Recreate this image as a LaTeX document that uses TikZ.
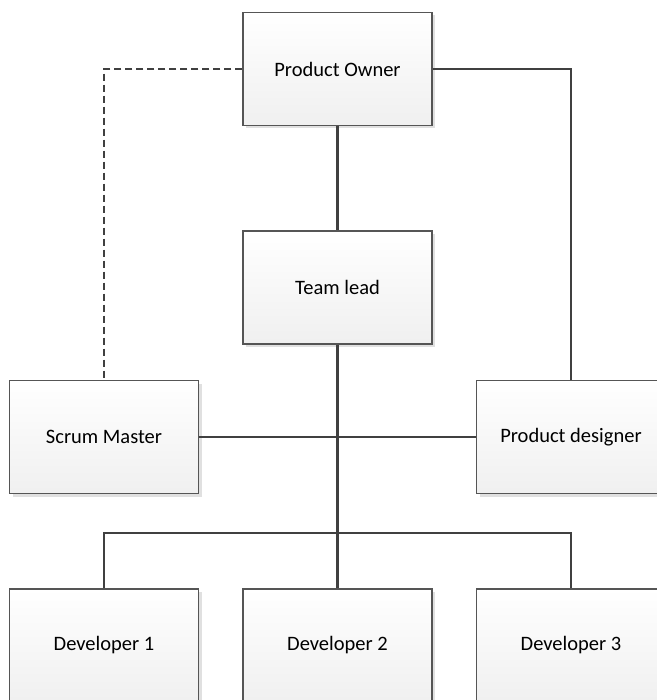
\documentclass[tikz,border=0pt]{standalone}
\usepackage{fontspec}
\setmainfont{Carlito}
\usetikzlibrary{shadows}
\definecolor{linec}{HTML}{404040}
\definecolor{boxline}{HTML}{555555}
\tikzset{
  box/.style={draw=boxline, line width=1.1pt, rectangle, minimum width=189pt, minimum height=113pt,
    top color=white, bottom color=black!6, inner sep=0pt,
    drop shadow={shadow xshift=3pt, shadow yshift=-3pt, fill=black!12, opacity=1},
    font=\fontsize{20.5pt}{24pt}\selectfont},
  conn/.style={draw=linec, line width=2.2pt},
  dconn/.style={conn, dash pattern=on 7pt off 4pt},
}
\begin{document}
\begin{tikzpicture}[x=1pt,y=-1pt]
\useasboundingbox (0,0) rectangle (656,700);
\node[box] (PO) at (337.5,69) {Product Owner};
\node[box] (TL) at (337.5,287.5) {Team lead};
\node[box] (SM) at (104,437) {Scrum Master};
\node[box] (PD) at (571,437) {Product designer};
\node[box] (D1) at (104,645.5) {Developer 1};
\node[box] (D2) at (337.5,645.5) {Developer 2};
\node[box] (D3) at (571,645.5) {Developer 3};
\coordinate (bus) at (337.5,533);
\draw[dconn] (PO.west) -| (SM.north);
\draw[conn] (PO.east) -| (PD.north);
\draw[conn] (PO.south) -- (TL.north);
\draw[conn] (SM.east) -- (PD.west);
\draw[conn] (TL.south) -- (bus);
\draw[conn] (bus) -- (D2.north);
\draw[conn] (D1.north) |- (bus) -| (D3.north);
\end{tikzpicture}
\end{document}
